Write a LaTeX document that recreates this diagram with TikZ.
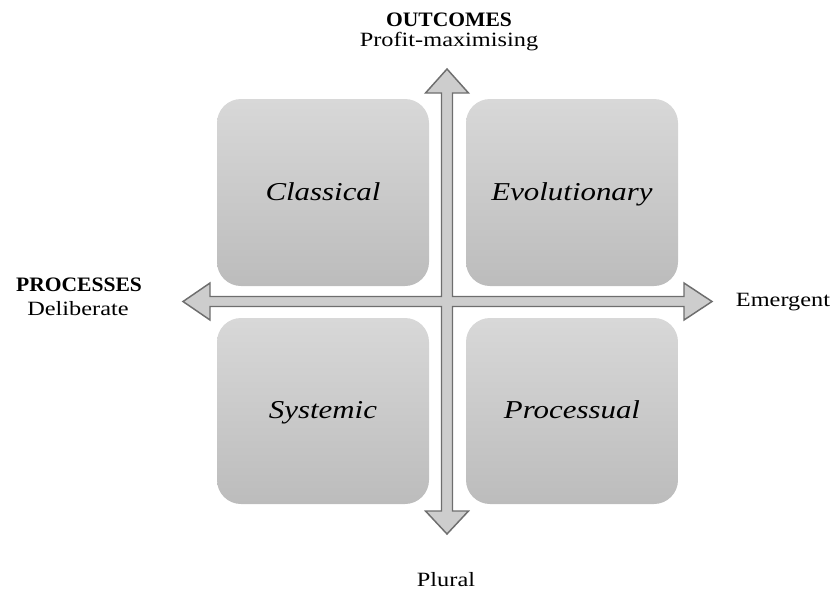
\documentclass[tikz,border=0pt]{standalone}
\usepackage{fontspec}
\setmainfont[FakeStretch=1.2]{Liberation Serif}
\newfontfamily\titlefont[FakeStretch=1.05]{Liberation Serif}
\definecolor{arrowfill}{HTML}{CDCDCD}
\definecolor{arrowline}{HTML}{6E6E6E}
\definecolor{boxtop}{HTML}{D8D8D8}
\definecolor{boxbot}{HTML}{BCBCBC}
\tikzset{
  quad/.style={top color=boxtop, bottom color=boxbot, draw=none, rounded corners=18pt},
  quadlabel/.style={anchor=base, font=\fontsize{19.3}{22}\selectfont\itshape, inner sep=0pt},
  axislabel/.style={anchor=base, font=\fontsize{15.2}{18}\selectfont, inner sep=0pt},
  axistitle/.style={anchor=base, font=\titlefont\fontsize{15.4}{18}\selectfont\bfseries, inner sep=0pt},
  crossarrow/.style={fill=arrowfill, draw=arrowline, line width=1.1pt, line join=miter}
}
\begin{document}
\begin{tikzpicture}[x=0.75pt,y=-0.75pt]
\useasboundingbox (0,0) rectangle (838,594);
% quadrants
\path[quad] (217,99) rectangle (429,286);
\path[quad] (466,99) rectangle (678,286);
\path[quad] (217,318) rectangle (429,504);
\path[quad] (466,318) rectangle (678,504);
% cross of double arrows
\draw[crossarrow] (447,69) -- (468.5,93) -- (452.5,93) -- (452.5,296.5) -- (684,296.5) -- (684,283)
  -- (712,301.5) -- (684,320) -- (684,306.5) -- (452.5,306.5) -- (452.5,511) -- (468.5,511)
  -- (447,534) -- (425.5,511) -- (441.5,511) -- (441.5,306.5) -- (210,306.5) -- (210,320)
  -- (183,301.5) -- (210,283) -- (210,296.5) -- (441.5,296.5) -- (441.5,93) -- (425.5,93) -- cycle;
% quadrant labels
\node[quadlabel] (classical) at (323,200) {Classical};
\node[quadlabel] (evolutionary) at (572,200) {Evolutionary};
\node[quadlabel] (systemic) at (323,418) {Systemic};
\node[quadlabel] (processual) at (572,418) {Processual};
% axis labels
\node[axistitle] (outcomes) at (449,26) {OUTCOMES};
\node[axislabel] (profit) at (449,46) {Profit-maximising};
\node[axistitle] (processes) at (79,291) {PROCESSES};
\node[axislabel] (deliberate) at (78,315) {Deliberate};
\node[axislabel] (emergent) at (783,306) {Emergent};
\node[axislabel] (plural) at (446,586) {Plural};
\end{tikzpicture}
\end{document}
